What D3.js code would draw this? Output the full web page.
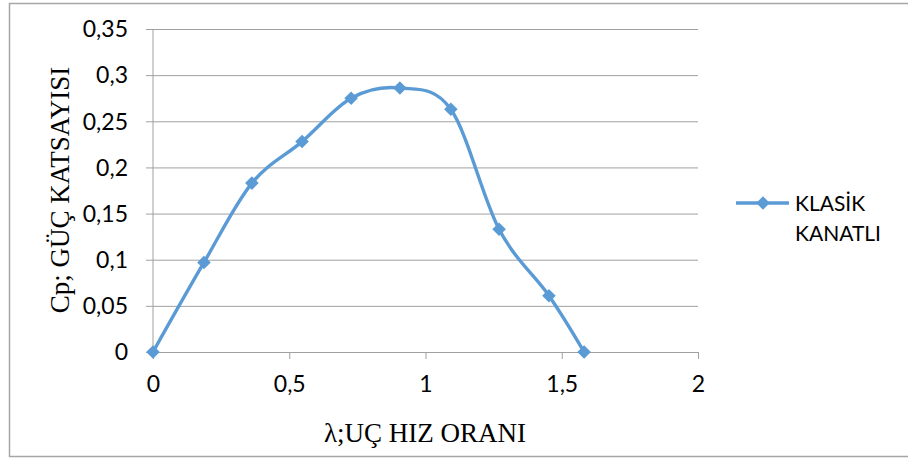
<!DOCTYPE html>
<meta charset="utf-8">
<script src="https://d3js.org/d3.v7.min.js"></script>
<style>
  body { margin: 0; background: #fff; }
</style>
<div id="my_dataviz"></div>
<script>

// data
var tsr = [0, 0.187, 0.363, 0.547, 0.727, 0.906, 1.093, 1.27, 1.453, 1.582];
var cp  = [0, 0.097, 0.183, 0.228, 0.275, 0.286, 0.263, 0.133, 0.061, 0];
var xTicks = [0, 0.5, 1, 1.5, 2];
var yTicks = [0, 0.05, 0.1, 0.15, 0.2, 0.25, 0.3, 0.35];
var seriesName = ["KLASİK", "KANATLI"];

var W = 908, H = 459;
var margin = {top: 29, right: 210, bottom: 107, left: 153},
    width = W - margin.left - margin.right,
    height = H - margin.top - margin.bottom;

var blue = "#5B9BD5";
var fmt = function(d) { return String(d).replace(".", ","); };

var svg = d3.select("#my_dataviz")
  .append("svg")
    .attr("width", W)
    .attr("height", H);

// outer chart border
svg.append("rect")
  .attr("x", 9.5).attr("y", 3.5)
  .attr("width", W).attr("height", 453)
  .attr("fill", "none")
  .attr("stroke", "#a6a6a6")
  .attr("stroke-width", 1.5);

var g = svg.append("g")
  .attr("transform", "translate(" + margin.left + "," + margin.top + ")");

var x = d3.scaleLinear().domain([0, 2]).range([0, width]);
var y = d3.scaleLinear().domain([0, 0.35]).range([height, 0]);

// horizontal gridlines with left ticks
g.append("g")
  .call(d3.axisLeft(y).tickValues(yTicks).tickSize(-width).tickFormat(""))
  .call(function(a) {
    a.select(".domain").remove();
    a.selectAll("line").attr("stroke", "#a0a0a0").attr("x1", -7);
  });

// y labels
g.append("g").selectAll("text")
  .data(yTicks)
  .enter().append("text")
    .attr("x", -25)
    .attr("y", function(d) { return y(d); })
    .attr("dy", "0.36em")
    .attr("text-anchor", "end")
    .style("font-family", "Lato, 'Open Sans', sans-serif")
    .style("font-size", "23px")
    .text(fmt);

// y axis line
g.append("line")
  .attr("x1", 0).attr("x2", 0).attr("y1", 0).attr("y2", height)
  .attr("stroke", "#a0a0a0");

// x axis
g.append("g")
  .attr("transform", "translate(0," + height + ")")
  .call(d3.axisBottom(x).tickValues(xTicks).tickSize(7).tickPadding(17).tickFormat(fmt))
  .call(function(a) {
    a.select(".domain").attr("stroke", "#a0a0a0");
    a.selectAll("line").attr("stroke", "#a0a0a0");
    a.selectAll("text")
      .attr("fill", "#000")
      .style("font-family", "Lato, 'Open Sans', sans-serif")
      .style("font-size", "23px");
  });

// axis titles
svg.append("text")
  .attr("transform", "translate(60,190) rotate(-90)")
  .attr("text-anchor", "middle")
  .attr("dy", "0.35em")
  .style("font-family", "'Liberation Serif', 'Times New Roman', serif")
  .style("font-size", "27px")
  .text("Cp; GÜÇ KATSAYISI");

svg.append("text")
  .attr("x", 425)
  .attr("y", 442)
  .attr("text-anchor", "middle")
  .style("font-family", "'Liberation Serif', 'Times New Roman', serif")
  .style("font-size", "27px")
  .text("λ;UÇ HIZ ORANI");

// smoothed line
var pts = tsr.map(function(d, i) { return [d, cp[i]]; });
var line = d3.line()
  .x(function(d) { return x(d[0]); })
  .y(function(d) { return y(d[1]); })
  .curve(d3.curveCatmullRom.alpha(0));

g.append("path")
  .datum(pts)
  .attr("d", line)
  .attr("fill", "none")
  .attr("stroke", blue)
  .attr("stroke-width", 3.4);

// square markers turned 45 degrees
var diamond = d3.symbol().type(d3.symbolSquare).size(92);
g.selectAll(".pt")
  .data(pts)
  .enter().append("path")
    .attr("class", "pt")
    .attr("transform", function(d) { return "translate(" + x(d[0]) + "," + y(d[1]) + ") rotate(45)"; })
    .attr("d", diamond)
    .attr("fill", blue);

// legend
var lg = svg.append("g").attr("transform", "translate(736,203)");
lg.append("line")
  .attr("x1", 0).attr("x2", 53)
  .attr("stroke", blue).attr("stroke-width", 3.4);
lg.append("path")
  .attr("transform", "translate(27,0) rotate(45)")
  .attr("d", diamond)
  .attr("fill", blue);
lg.selectAll("text")
  .data(seriesName)
  .enter().append("text")
    .attr("x", 59)
    .attr("y", function(d, i) { return 8 + i * 30; })
    .style("font-family", "Lato, 'Open Sans', sans-serif")
    .style("font-size", "21px")
    .text(function(d) { return d; });

</script>
